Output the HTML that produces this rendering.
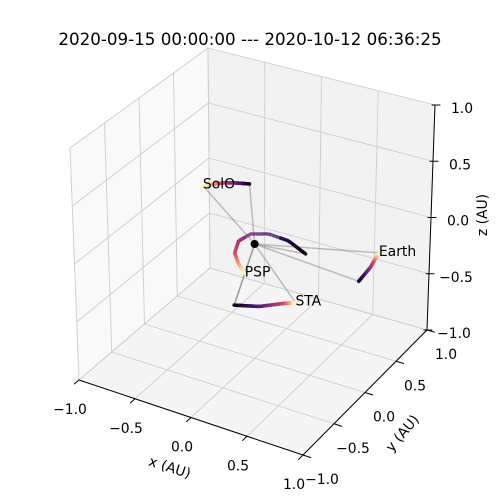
<!DOCTYPE html>
<html><head><meta charset="utf-8"><style>
body{margin:0;background:#fff;}
svg{display:block;font-family:"DejaVu Sans","Liberation Sans",sans-serif;}
</style></head><body>
<svg id="chart" width="500" height="500" viewBox="0 0 500 500" xmlns="http://www.w3.org/2000/svg">
<rect width="500" height="500" fill="#fff"/>
<text x="250" y="45" font-size="16.7" text-anchor="middle" fill="#000">2020-09-15 00:00:00 --- 2020-10-12 06:36:25</text>
<g id="panes"></g><g id="grid"></g><g id="axes"></g><g id="data"></g>
<text x="170" y="472" font-size="13.9" text-anchor="middle" transform="rotate(18 170 467)">x (AU)</text>
<text x="402" y="438" font-size="13.9" text-anchor="middle" transform="rotate(-50 402 433)">y (AU)</text>
<text x="487" y="215" font-size="13.9" text-anchor="middle" transform="rotate(-90 487 215)">z (AU)</text>
</svg>
<script>
const ticks=[-1,-0.5,0,0.5,1];
const tickLabels=["\u22121.0","\u22120.5","0.0","0.5","1.0"];
const earthX=[0.972,0.950,0.902];
const earthY=[-0.088,0.131,0.353];
const earthZ=[0,0,0];
const staX=[0.324,0.497,0.626,0.704];
const staY=[-0.880,-0.796,-0.667,-0.603];
const staZ=[0,0,0,0];
const pspX=[0.414,0.201,0.015,-0.104,-0.129,-0.062,0.049,0.158];
const pspY=[0.065,0.172,0.188,0.118,-0.022,-0.198,-0.328,-0.425];
const pspZ=[0,0,0,0,0,0,0,0];
const soloX=[-0.056,-0.150,-0.235,-0.344];
const soloY=[0.02,-0.017,-0.067,-0.185];
const soloZ=[0.5,0.5,0.5,0.5];
const bodyNames=["PSP","SolO","STA","Earth"];

const NS="http://www.w3.org/2000/svg";
const C={"-1,-1,-1":[79,380],"1,-1,-1":[303,455],"-1,1,-1":[210,268],"1,1,-1":[427,330],
"-1,-1,1":[70,148],"1,-1,1":[305,218],"-1,1,1":[208,48],"1,1,1":[435,105]};
function P(x,y,z){const u=(x+1)/2,v=(y+1)/2,w=(z+1)/2;let sx=0,sy=0;
for(const i of[-1,1])for(const j of[-1,1])for(const k of[-1,1]){
const f=(i>0?u:1-u)*(j>0?v:1-v)*(k>0?w:1-w);const c=C[i+","+j+","+k];sx+=f*c[0];sy+=f*c[1];}
return[sx,sy];}
function mk(tag,attrs,parent){const e=document.createElementNS(NS,tag);for(const k in attrs)e.setAttribute(k,attrs[k]);document.getElementById(parent).appendChild(e);return e;}
function line(a,b,st,w,parent){return mk("line",{x1:a[0],y1:a[1],x2:b[0],y2:b[1],stroke:st,"stroke-width":w,"stroke-linecap":"round"},parent);}
function poly(pts,fill,parent){return mk("polygon",{points:pts.map(p=>p.join(",")).join(" "),fill:fill,stroke:"#eeeeee","stroke-width":0.8},parent);}
let e;
e=poly([P(-1,-1,-1),P(-1,1,-1),P(-1,1,1),P(-1,-1,1)],"#f9f9f9","panes");

e=poly([P(-1,1,-1),P(1,1,-1),P(1,1,1),P(-1,1,1)],"#f2f2f2","panes");

e=poly([P(-1,-1,-1),P(1,-1,-1),P(1,1,-1),P(-1,1,-1)],"#f5f5f5","panes");

const G="#cdcdcd";
ticks.forEach(t=>{
 e=line(P(t,-1,-1),P(t,1,-1),G,0.9,"grid");
 e=line(P(-1,t,-1),P(1,t,-1),G,0.9,"grid");
 e=line(P(-1,t,-1),P(-1,t,1),G,0.9,"grid");
 e=line(P(-1,-1,t),P(-1,1,t),G,0.9,"grid");
 e=line(P(t,1,-1),P(t,1,1),G,0.9,"grid");
 e=line(P(-1,1,t),P(1,1,t),G,0.9,"grid");
});
e=line(P(-1,-1,-1),P(1,-1,-1),"#000",1,"axes");
e=line(P(1,-1,-1),P(1,1,-1),"#000",1,"axes");
e=line(P(1,1,-1),P(1,1,1),"#000",1,"axes");
function txt(p,s){const t=mk("text",{x:p[0],y:p[1],"font-size":13.9,"text-anchor":"middle","dominant-baseline":"middle",fill:"#000"},"axes");t.textContent=s;return t;}
ticks.forEach((t,i)=>{
 const a=P(t,-1,-1);e=line(a,P(t,-1.07,-1),"#000",1,"axes");
 e=txt([a[0]-9,a[1]+30],tickLabels[i]);
 const b=P(1,t,-1);e=line(b,P(1.07,t,-1),"#000",1,"axes");
 e=txt([b[0]+19,b[1]+25],tickLabels[i]);
 const c=P(1,1,t);e=line([c[0]-3,c[1]],[c[0]+5,c[1]],"#000",1,"axes");
 e=txt([c[0]+27,c[1]+4],tickLabels[i]);
});
const ms=[[0,[0,0,4]],[0.25,[59,15,112]],[0.5,[140,41,129]],[0.75,[222,73,104]],[0.875,[254,159,109]],[1,[252,253,191]]];
function magma(t){for(let i=1;i<ms.length;i++){if(t<=ms[i][0]){const a=ms[i-1],b=ms[i],f=(t-a[0])/(b[0]-a[0]);
return "rgb("+a[1].map((v,k)=>Math.round(v+(b[1][k]-v)*f)).join(",")+")";}}return "rgb(252,253,191)";}
const sun=P(0,0,0);
const bodies=[[pspX,pspY,pspZ],[soloX,soloY,soloZ],[staX,staY,staZ],[earthX,earthY,earthZ]];
bodies.forEach((b,bi)=>{const n=b[0].length;
 [0,n-1].forEach(k=>{e=line(sun,P(b[0][k],b[1][k],b[2][k]),"rgba(120,120,120,0.45)",1.5,"data");
 });});
e=line(P(pspX[pspX.length-1],pspY[pspY.length-1],0),P(staX[0],staY[0],0),"rgba(120,120,120,0.45)",1.5,"data");

bodies.forEach((b,bi)=>{const n=b[0].length;const steps=40;
 for(let s=0;s<steps;s++){const t0=s/steps,t1=(s+1)/steps;
  const q=t=>{const f=t*(n-1),i=Math.min(Math.floor(f),n-2),r=f-i;
   return P(b[0][i]+(b[0][i+1]-b[0][i])*r,b[1][i]+(b[1][i+1]-b[1][i])*r,b[2][i]+(b[2][i+1]-b[2][i])*r);};
  const tm=(t0+t1)/2;
  e=line(q(t0),q(t1),magma(tm),3.5,"data");
  if(bi===0&&tm>0.2&&tm<0.5)e.setAttribute('stroke-opacity','0.55');
  }
 const last=P(b[0][n-1],b[1][n-1],b[2][n-1]);
 const t=mk("text",{x:last[0],y:last[1]+3,"font-size":13.9,"text-anchor":"start",fill:"#000"},"data");
 t.textContent=bodyNames[bi];
 
 
});
e=mk("circle",{cx:sun[0],cy:sun[1],r:4,fill:"#000"},"data");

</script>
</body></html>
